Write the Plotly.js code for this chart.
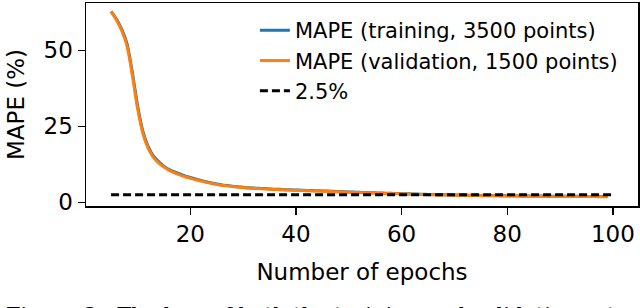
<!DOCTYPE html>
<html>
<head>
<meta charset="utf-8">
<script src="https://cdn.plot.ly/plotly-3.0.1.min.js"></script>
<style>html,body{margin:0;padding:0;background:#fff;overflow:hidden}#chart{width:640px;height:308px}</style>
</head>
<body>
<div id="chart"></div>
<script>
const epochs = [5,6,7,8,9,10,11,12,13,14,15,16,17,18,19,20,21,22,23,24,25,26,27,28,29,30,31,32,33,34,35,36,37,38,39,40,41,42,43,44,45,46,47,48,49,50,51,52,53,54,55,56,57,58,59,60,61,62,63,64,65,66,67,68,69,70,71,72,73,74,75,76,77,78,79,80,81,82,83,84,85,86,87,88,89,90,91,92,93,94,95,96,97,98,99];
const mapeTraining = [62.8,60.3,57.0,52.3,43.0,32.0,23.5,18.4,15.3,13.4,11.9,10.8,10.0,9.3,8.7,8.2,7.7,7.2,6.75,6.35,6.0,5.7,5.5,5.3,5.1,4.95,4.8,4.7,4.6,4.5,4.4,4.3,4.25,4.15,4.1,4.05,4.0,3.9,3.85,3.8,3.75,3.7,3.6,3.55,3.5,3.4,3.35,3.3,3.2,3.15,3.1,3.05,3.0,2.95,2.9,2.85,2.8,2.75,2.7,2.65,2.6,2.55,2.5,2.47,2.44,2.41,2.38,2.35,2.32,2.29,2.27,2.25,2.22,2.2,2.17,2.15,2.13,2.11,2.09,2.07,2.05,2.04,2.02,2.01,2.0,1.99,1.98,1.97,1.96,1.95,1.94,1.93,1.92,1.91,1.91];
const mapeValidation = [62.7,60.0,56.5,51.5,42.0,31.0,22.8,17.8,14.8,13.0,11.6,10.5,9.7,9.0,8.4,7.9,7.4,7.0,6.6,6.2,5.9,5.6,5.4,5.2,5.0,4.85,4.7,4.6,4.5,4.4,4.3,4.2,4.15,4.05,4.0,3.95,3.9,3.8,3.75,3.7,3.65,3.6,3.5,3.45,3.4,3.3,3.25,3.2,3.1,3.05,3.0,2.95,2.9,2.85,2.8,2.75,2.7,2.65,2.6,2.55,2.5,2.45,2.4,2.38,2.35,2.32,2.3,2.27,2.25,2.22,2.2,2.18,2.15,2.13,2.1,2.08,2.06,2.04,2.02,2.0,1.99,1.98,1.96,1.95,1.94,1.93,1.92,1.91,1.9,1.89,1.88,1.87,1.86,1.85,1.85];
const thresholdX = [5, 100];
const thresholdY = [2.5, 2.5];
const xTicks = [20, 40, 60, 80, 100];
const yTicks = [0, 25, 50];
const seriesNames = ["MAPE (training, 3500 points)", "MAPE (validation, 1500 points)", "2.5%"];
const caption = "Figure 3:  The loss of both the training and validation sets of";

const font = "DejaVu Sans";
const traces = [
  {x: epochs, y: mapeTraining, mode: "lines", name: seriesNames[0], legendgroup: "a", line: {color: "#1f77b4", width: 3, shape: "spline", smoothing: 0.8}},
  {x: epochs, y: mapeValidation, mode: "lines", name: seriesNames[1], legendgroup: "b", line: {color: "#ff7f0e", width: 3, shape: "spline", smoothing: 0.8}},
  {x: thresholdX, y: thresholdY, mode: "lines", name: seriesNames[2], legendgroup: "c", line: {color: "#000000", width: 3, dash: "8px,4px"}}
];
const layout = {
  width: 640, height: 308,
  margin: {l: 86, r: 2, t: 3, b: 102, pad: 0},
  paper_bgcolor: "#fff", plot_bgcolor: "#fff",
  font: {family: font, size: 23, color: "#000"},
  showlegend: true,
  legend: {x: 0.306, y: 0.965, xanchor: "left", yanchor: "top", bgcolor: "rgba(0,0,0,0)", borderwidth: 0,
           font: {family: font, size: 21}, traceorder: "grouped", tracegroupgap: 0},
  xaxis: {
    range: [0.25, 104.75], tickvals: xTicks, ticktext: xTicks.map(String),
    showgrid: false, zeroline: false, showline: true, mirror: true, linecolor: "#000", linewidth: 1.5,
    ticks: "outside", ticklen: 7, tickwidth: 1.5, tickcolor: "#000",
    tickfont: {family: font, size: 23},
    title: {text: "Number of epochs", font: {family: font, size: 23}, standoff: 18}
  },
  yaxis: {
    range: [-1.22, 65.56], tickvals: yTicks, ticktext: yTicks.map(String),
    showgrid: false, zeroline: false, showline: true, mirror: true, linecolor: "#000", linewidth: 1.5,
    ticks: "outside", ticklen: 7, tickwidth: 1.5, tickcolor: "#000",
    tickfont: {family: font, size: 23},
    title: {text: "MAPE (%)", font: {family: font, size: 23}, standoff: 12}
  },
  annotations: [{
    text: caption, xref: "paper", yref: "paper", x: -0.148, y: -0.47, xanchor: "left", yanchor: "top",
    showarrow: false, font: {family: "DejaVu Serif", size: 21, color: "#000"}
  }]
};
Plotly.newPlot("chart", traces, layout, {staticPlot: true, displayModeBar: false});
</script>
</body>
</html>
